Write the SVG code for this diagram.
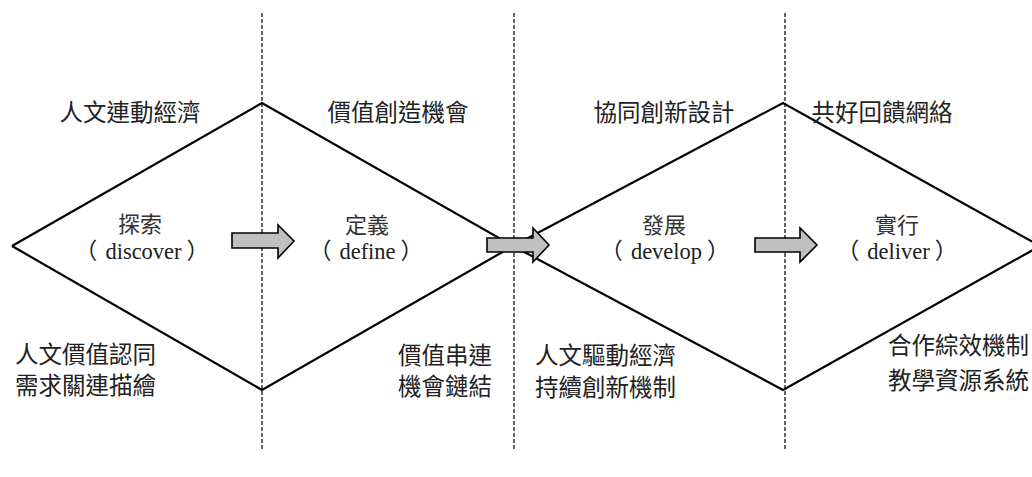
<svg xmlns="http://www.w3.org/2000/svg" width="1032" height="477" viewBox="0 0 1032 477">
<style>
.bg{fill:#ffffff}
.div{stroke:#000;stroke-width:1.2;stroke-dasharray:4,2;fill:none}
.dia{stroke:#000;stroke-width:2.2;fill:none;stroke-linejoin:miter}
.arr{fill:#c0c0c0;stroke:#000;stroke-width:1.6;stroke-linejoin:miter}
.lab{font-family:"Noto Sans CJK TC","Noto Sans CJK SC",sans-serif;font-size:23.5px;fill:#222}
.ph{font-family:"Noto Sans CJK TC","Noto Sans CJK SC",sans-serif;font-size:22px;fill:#333;text-anchor:middle}
.en{font-family:"Liberation Serif","Noto Sans CJK TC",serif;font-size:22.5px;fill:#222;text-anchor:middle}
.mid{text-anchor:middle}
</style>
<rect class="bg" x="0" y="0" width="1032" height="477"/>
<g id="dividers">
<line class="div" x1="262" y1="13" x2="262" y2="450"/>
<line class="div" x1="514" y1="13" x2="514" y2="450"/>
<line class="div" x1="785" y1="13" x2="785" y2="450"/>
</g>
<g id="diamonds">
<polyline class="dia" points="12,246 262,103 513,246 783,103 1040,246"/>
<polyline class="dia" points="12,246 262,390 513,246 783,390 1040,246"/>
</g>
<g id="connectors">
<polygon class="arr" points="232,233 278,233 278,225 294,241 278,258 278,248 232,248"/>
<polygon class="arr" points="487,238 533,238 533,228 549,245 533,262 533,252 487,252"/>
<polygon class="arr" points="755,238 800,238 800,228 817,245 800,262 800,252 755,252"/>
</g>
<g id="discover">
<text class="lab mid" x="130" y="121">人文連動經濟</text>
<text class="ph" x="140" y="232">探索</text>
<text class="en" x="142" y="259">（<tspan dx="8">discover</tspan><tspan dx="5">）</tspan></text>
<text class="lab" x="15" y="363">人文價值認同</text>
<text class="lab" x="15" y="394">需求關連描繪</text>
</g>
<g id="define">
<text class="lab mid" x="398" y="121">價值創造機會</text>
<text class="ph" x="367" y="233">定義</text>
<text class="en" x="366" y="259">（<tspan dx="8">define</tspan><tspan dx="5">）</tspan></text>
<text class="lab" x="398" y="364">價值串連</text>
<text class="lab" x="398" y="395">機會鏈結</text>
</g>
<g id="develop">
<text class="lab mid" x="664" y="121">協同創新設計</text>
<text class="ph" x="664" y="233">發展</text>
<text class="en" x="665" y="259">（<tspan dx="8">develop</tspan><tspan dx="5">）</tspan></text>
<text class="lab" x="535" y="364">人文驅動經濟</text>
<text class="lab" x="535" y="396">持續創新機制</text>
</g>
<g id="deliver">
<text class="lab mid" x="882" y="121">共好回饋網絡</text>
<text class="ph" x="897" y="233">實行</text>
<text class="en" x="897" y="259">（<tspan dx="8">deliver</tspan><tspan dx="5">）</tspan></text>
<text class="lab" x="888" y="354">合作綜效機制</text>
<text class="lab" x="888" y="389">教學資源系統</text>
</g>
</svg>
